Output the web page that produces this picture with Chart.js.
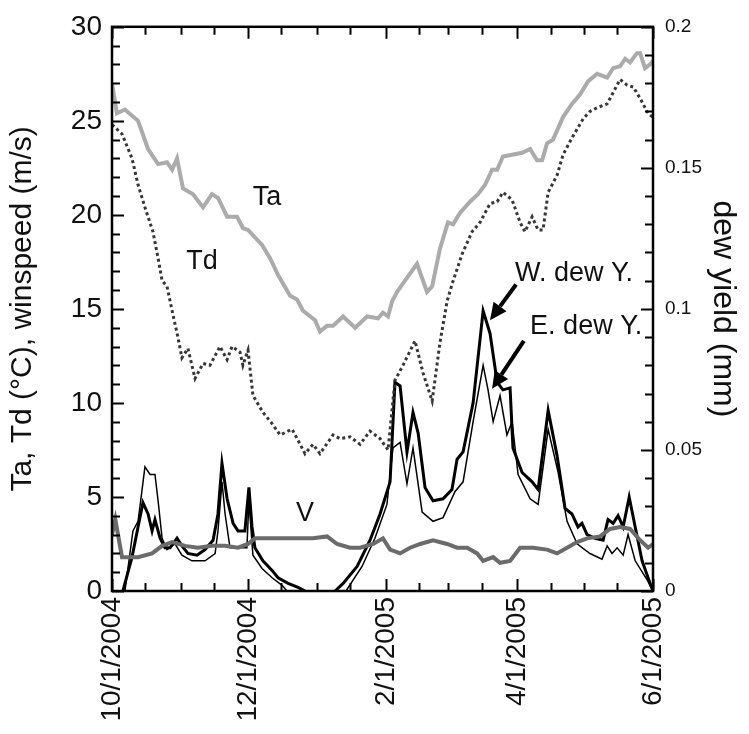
<!DOCTYPE html>
<html>
<head>
<meta charset="utf-8">
<script src="https://cdn.jsdelivr.net/npm/chart.js@4.4.1/dist/chart.umd.min.js"></script>
<style>
  body { margin: 0; background: #fff; }
</style>
</head>
<body>
<canvas id="chart" width="749" height="734"></canvas>
<script>
// days counted from 10/1/2004
const tickDays = [0, 61, 123, 182, 243]
const tickLabels = ['10/1/2004', '12/1/2004', '2/1/2005', '4/1/2005', '6/1/2005']
const minorDays = [15, 31, 46, 76, 92, 107, 138, 151, 166, 197, 212, 227]

// air temperature (°C)
const taDays = [0, 2.2, 5.8, 11.7, 16.2, 20.7, 24.7, 27, 29.2, 31.9, 36.4, 40.9, 44.9, 47.6, 51.7, 56.2, 58.8, 61.1, 67.4, 71, 74.6, 80, 83.1, 85.8, 91.2, 93.4, 96.6, 99.3, 103.8, 109.2, 114.6, 119.5, 121.7, 124, 125.8, 128, 131.6, 137, 141.5, 143.8, 147.3, 150.9, 153.2, 156.3, 160.8, 164.4, 167.6, 170.7, 173, 175.6, 179.7, 184.2, 187.8, 190.9, 193.2, 195.4, 198.1, 202.6, 206.6, 210.2, 213.8, 217.9, 222.4, 225.1, 228.2, 230.5, 232.7, 235.8, 237.2, 239.4, 241.7, 243]
const taVals = [27, 25.4, 25.6, 25, 23.5, 22.7, 22.8, 22.4, 23, 21.4, 21.1, 20.4, 21.1, 20.9, 19.9, 19.9, 19.3, 19.2, 18.4, 17.7, 16.8, 15.7, 15.5, 14.9, 14.4, 13.8, 14.1, 14.1, 14.6, 14, 14.6, 14.5, 14.8, 14.6, 15.4, 15.9, 16.5, 17.4, 15.9, 16.2, 18.2, 19.6, 19.5, 20.1, 20.7, 21.1, 21.6, 22.4, 22.4, 23.1, 23.2, 23.3, 23.5, 22.9, 22.9, 23.8, 24, 25.2, 25.9, 26.4, 27.1, 27.5, 27.3, 27.8, 27.9, 28.3, 28.1, 28.6, 28.6, 27.8, 28, 28.2]

// dew point (°C)
const tdDays = [0, 4.5, 9, 11.7, 14.8, 18.4, 20.7, 22.5, 24.7, 27, 29.6, 31.4, 34.1, 37.3, 40.9, 44, 48.5, 51.7, 53.9, 57.5, 58.8, 61.1, 63.3, 67.8, 71.9, 75.5, 80.9, 84.5, 86.7, 90.3, 93.4, 99.3, 102.4, 106.9, 111.4, 115.9, 120.4, 124, 127.1, 130.7, 136.1, 139.7, 143.8, 147.3, 150.5, 152.7, 157.2, 161.7, 165.3, 169.8, 173, 175.6, 179.7, 183.3, 185.5, 188.7, 191.4, 193.6, 195.9, 199.9, 202.6, 207.1, 211.6, 214.7, 217.9, 222.4, 225.1, 228.2, 231.4, 234.1, 237.2, 240.3, 241.7, 243]
const tdVals = [24.8, 24.3, 23, 21.6, 20.4, 19.1, 17.7, 16.5, 16.2, 14.9, 13.5, 12.4, 12.9, 11.3, 12.1, 12, 13, 12.3, 13, 12.7, 12, 12.8, 10.4, 9.5, 8.9, 8.3, 8.6, 7.8, 7.3, 7.8, 7.3, 8.3, 8.1, 8.2, 7.8, 8.5, 8.1, 7.5, 11.2, 12, 13.3, 11.6, 10.1, 13.2, 15.4, 16.3, 17.9, 19.1, 19.6, 20.6, 20.7, 21.2, 20.8, 19.6, 19.1, 19.9, 19.2, 19.2, 21.2, 22.1, 23.2, 24.2, 25.1, 25.5, 25.7, 25.9, 26.5, 27.2, 26.9, 26.8, 26.2, 25.5, 25.3, 25.2]

// wind speed (m/s)
const vDays = [0, 1.5, 4.5, 11.7, 18, 22.5, 27, 32.8, 38.6, 44.9, 50.8, 56.6, 61.1, 64.2, 70.1, 74.6, 80.9, 86.7, 90.3, 96.6, 101.1, 106.9, 111.4, 117.3, 121.7, 124.9, 129.4, 133.9, 138.4, 144.2, 150.5, 155, 159.5, 164, 166.7, 171.2, 174.3, 178.8, 183.3, 189.1, 195.4, 199.9, 204.4, 208.9, 213.4, 219.2, 223.7, 228.2, 232.7, 237.2, 240.8, 243]
const vVals = [3, 3.8, 1.8, 1.8, 2, 2.4, 2.6, 2.4, 2.3, 2.4, 2.4, 2.3, 2.5, 2.8, 2.8, 2.8, 2.8, 2.8, 2.8, 2.9, 2.5, 2.3, 2.3, 2.5, 2.8, 2.2, 2, 2.3, 2.5, 2.7, 2.5, 2.3, 2.3, 2, 1.6, 1.8, 1.5, 1.6, 2.3, 2.3, 2.2, 2, 2.3, 2.6, 2.8, 2.9, 3.3, 3.4, 3.3, 2.7, 2.3, 2.5]

// W. dew yield (mm)
const wDays = [4.9, 9, 11.7, 13.9, 16.2, 18, 19.3, 21.6, 23.8, 26.1, 29.2, 31.4, 34.1, 38.2, 41.8, 45.4, 47.6, 49.4, 51.7, 54.4, 56.6, 59.7, 61.5, 62.9, 64.2, 67.8, 71.9, 74.6, 79.1, 83.6, 86.7, 93, 100.2, 103.8, 110.1, 115.9, 120.4, 124.9, 127.1, 129.4, 132.5, 135.2, 137.5, 140.6, 144.2, 148.7, 152.7, 155, 157.7, 162.2, 166.7, 169.8, 173, 175.6, 178.8, 180.1, 184.2, 188.7, 191.4, 195.9, 199.9, 203.5, 206.6, 209.3, 211.1, 213.4, 217, 220.6, 222.8, 225.1, 227.3, 229.6, 232.3, 235, 238.1, 241.7, 243]
const wVals = [0, 0.012, 0.0227, 0.0313, 0.0273, 0.0213, 0.0253, 0.0187, 0.0153, 0.0153, 0.0187, 0.016, 0.0133, 0.0127, 0.0147, 0.018, 0.0273, 0.0453, 0.0327, 0.024, 0.0213, 0.0213, 0.0367, 0.0227, 0.0153, 0.0107, 0.0073, 0.0047, 0.0027, 0.0013, 0, null, 0, 0.0027, 0.0087, 0.018, 0.0273, 0.0387, 0.074, 0.0727, 0.0493, 0.0633, 0.056, 0.0367, 0.032, 0.0327, 0.036, 0.0467, 0.0493, 0.0667, 0.0993, 0.0913, 0.074, 0.0713, 0.072, 0.0507, 0.042, 0.0387, 0.036, 0.064, 0.048, 0.0293, 0.0273, 0.0227, 0.024, 0.02, 0.0187, 0.018, 0.0253, 0.024, 0.0267, 0.0227, 0.0333, 0.0227, 0.0107, 0.0027, 0]

// E. dew yield (mm)
const eDays = [5.8, 9.4, 11.7, 14.8, 17.1, 19.3, 20.7, 22.5, 24.7, 28.3, 31.4, 35.9, 41.8, 46.3, 47.6, 49.4, 50.8, 53, 56.6, 60.6, 61.5, 63.3, 67.4, 71.9, 76.4, 78.6, 93, 105.1, 112.3, 118.1, 123.5, 126.2, 129.4, 132.5, 135.2, 139.3, 144.2, 148.7, 154.1, 157.7, 162.2, 166.7, 168.9, 171.2, 174.3, 177.4, 179.7, 182.4, 187.8, 191.4, 195.9, 200.4, 204.4, 208.9, 214.7, 220.1, 222.4, 224.6, 226.9, 229.6, 231.8, 235, 240.3, 243]
const eVals = [0, 0.0213, 0.0247, 0.044, 0.0413, 0.0413, 0.032, 0.0187, 0.0147, 0.0167, 0.0127, 0.0107, 0.0107, 0.0133, 0.0213, 0.0387, 0.0273, 0.0153, 0.0153, 0.0153, 0.032, 0.0127, 0.008, 0.0047, 0.002, 0, null, 0, 0.0087, 0.0187, 0.0307, 0.0507, 0.0527, 0.038, 0.0507, 0.028, 0.0247, 0.026, 0.0353, 0.0387, 0.06, 0.08, 0.0713, 0.06, 0.0693, 0.0553, 0.06, 0.0413, 0.0327, 0.0307, 0.0573, 0.042, 0.0247, 0.0167, 0.0133, 0.0113, 0.016, 0.0133, 0.0153, 0.0127, 0.02, 0.0107, 0.004, 0]

const FONT = '"Liberation Sans", Arial, Helvetica, sans-serif'
const pts = (xs, ys) => xs.map((x, i) => ({ x: x, y: ys[i] }))

function line(data, color, width, axis, dash) {
    return {
        data: data,
        yAxisID: axis,
        borderColor: color,
        borderWidth: width,
        borderDash: dash || [],
        pointRadius: 0,
        tension: 0,
        fill: false,
        spanGaps: false
    }
}

// inward ticks, frame and the text labels with arrows
const decor = {
    id: 'decor',
    afterDatasetsDraw(chart) {
        const c = chart.ctx
        const a = chart.chartArea
        const x = chart.scales.x, y = chart.scales.y, y2 = chart.scales.y2
        c.save()
        c.strokeStyle = '#000'
        c.lineWidth = 2
        c.beginPath()
        for (let v = 0; v <= 30; v++) {
            const py = Math.round(y.getPixelForValue(v)) + 0.5
            const len = v % 5 === 0 ? 12 : 8
            c.moveTo(a.left, py); c.lineTo(a.left + len, py)
        }
        for (let k = 0; k <= 20; k++) {
            const py = Math.round(y2.getPixelForValue(k / 100)) + 0.5
            const len = k % 5 === 0 ? 12 : 8
            c.moveTo(a.right, py); c.lineTo(a.right - len, py)
        }
        tickDays.concat(minorDays).forEach(d => {
            const px = Math.round(x.getPixelForValue(d)) + 0.5
            const len = tickDays.includes(d) ? 12 : 8
            c.moveTo(px, a.bottom); c.lineTo(px, a.bottom - len)
            c.moveTo(px, a.top); c.lineTo(px, a.top + len)
        })
        c.stroke()
        c.lineWidth = 2.5
        c.strokeRect(a.left, a.top, a.right - a.left, a.bottom - a.top)

        c.fillStyle = '#111'
        c.font = '27px ' + FONT
        c.textBaseline = 'middle'
        c.textAlign = 'center'
        c.fillText('Ta', x.getPixelForValue(69.6), y.getPixelForValue(20.9))
        c.fillText('Td', x.getPixelForValue(40.4), y.getPixelForValue(17.5))
        c.fillText('V', x.getPixelForValue(86.7), y.getPixelForValue(4.1))
        c.textAlign = 'left'
        c.fillText('W. dew Y.', x.getPixelForValue(181), y.getPixelForValue(16.9))
        c.fillText('E. dew Y.', x.getPixelForValue(187.8), y.getPixelForValue(14.05))

        const arrow = (d0, v0, d1, v1) => {
            const x0 = x.getPixelForValue(d0), y0 = y.getPixelForValue(v0)
            const x1 = x.getPixelForValue(d1), y1 = y.getPixelForValue(v1)
            const ang = Math.atan2(y1 - y0, x1 - x0)
            const hl = 17, hw = 8
            const bx = x1 - hl * Math.cos(ang), by = y1 - hl * Math.sin(ang)
            c.strokeStyle = '#000'
            c.lineWidth = 4
            c.beginPath(); c.moveTo(x0, y0); c.lineTo(bx, by); c.stroke()
            c.fillStyle = '#000'
            c.beginPath()
            c.moveTo(x1, y1)
            c.lineTo(bx + hw * Math.sin(ang), by - hw * Math.cos(ang))
            c.lineTo(bx - hw * Math.sin(ang), by + hw * Math.cos(ang))
            c.closePath(); c.fill()
        }
        arrow(181.5, 16.3, 169.8, 14.4)
        arrow(185, 13.3, 170.7, 10.75)
        c.restore()
    }
}

new Chart(document.getElementById('chart'), {
    type: 'line',
    data: {
        datasets: [
            line(pts(taDays, taVals), '#ababab', 4, 'y'),
            line(pts(tdDays, tdVals), '#363636', 3, 'y', [3, 3]),
            line(pts(vDays, vVals), '#6b6b6b', 4, 'y'),
            line(pts(eDays, eVals), '#000', 1.5, 'y2'),
            line(pts(wDays, wVals), '#000', 3, 'y2')
        ]
    },
    options: {
        responsive: false,
        animation: false,
        layout: { padding: { top: 19, left: 0, right: 0, bottom: 0 } },
        plugins: { legend: { display: false }, tooltip: { enabled: false } },
        scales: {
            x: {
                type: 'linear',
                min: 0,
                max: 243,
                grid: { display: false, drawTicks: false },
                border: { display: false },
                afterBuildTicks: s => { s.ticks = tickDays.map(v => ({ value: v })) },
                afterFit: s => { s.height = 143 },
                ticks: {
                    autoSkip: false,
                    minRotation: 90,
                    maxRotation: 90,
                    padding: 6,
                    color: '#111',
                    font: { size: 28, family: FONT },
                    callback: v => tickLabels[tickDays.indexOf(v)] || ''
                }
            },
            y: {
                position: 'left',
                min: 0,
                max: 30,
                grid: { display: false, drawTicks: false },
                border: { display: false },
                afterFit: s => { s.width = 112 },
                ticks: { stepSize: 5, padding: 10, color: '#111', font: { size: 28, family: FONT } },
                title: {
                    display: true,
                    text: 'Ta, Td (°C), winspeed (m/s)',
                    color: '#111',
                    font: { size: 30, family: FONT },
                    padding: { top: 5, bottom: 0 }
                }
            },
            y2: {
                position: 'right',
                min: 0,
                max: 0.2,
                grid: { display: false, drawTicks: false },
                border: { display: false },
                afterFit: s => { s.width = 96 },
                ticks: {
                    stepSize: 0.05,
                    padding: 12,
                    color: '#111',
                    font: { size: 19, family: FONT },
                    callback: v => String(Math.round(v * 100) / 100)
                },
                title: {
                    display: true,
                    text: 'dew yield (mm)',
                    color: '#111',
                    font: { size: 32, family: FONT },
                    padding: { top: 7, bottom: 0 }
                }
            }
        }
    },
    plugins: [decor]
})
</script>
</body>
</html>
